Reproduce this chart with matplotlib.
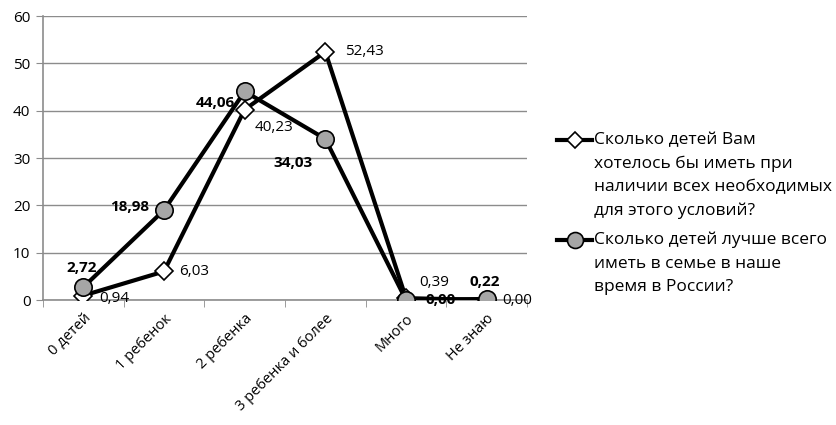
import matplotlib.pyplot as plt
from matplotlib.lines import Line2D

plt.rcParams['font.family'] = ['Open Sans', 'DejaVu Sans']

categories = ['0 детей', '1 ребенок', '2 ребенка', '3 ребенка и более', 'Много', 'Не знаю']
wish = [0.94, 6.03, 40.23, 52.43, 0.39, 0.00]
best = [2.72, 18.98, 44.06, 34.03, 0.00, 0.22]
wish_label = ['Сколько детей Вам', 'хотелось бы иметь при',
              'наличии всех необходимых', 'для этого условий?']
best_label = ['Сколько детей лучше всего', 'иметь в семье в наше', 'время в России?']

# label offsets in pixels (dx, dy)
wish_off = [(16, -3), (15, 0), (10, -18), (20, 0), (13, 16), (16, 0)]
best_off = [(14, 19), (-15, 3), (-10, -12), (-13, -24), (20, 0), (13, 17)]
best_ha = ['right', 'right', 'right', 'right', 'left', 'right']

fs = 11
leg_fs = 12.5
grid_c = '#8c8c8c'

fig = plt.figure(figsize=(8.37, 4.25), dpi=100)
ax = fig.add_axes([43 / 837, 1 - 300 / 425, (527 - 43) / 837, 284 / 425])

x = list(range(len(categories)))
ax.plot(x, wish, color='black', lw=3, zorder=3, solid_joinstyle='round')
ax.plot(x, best, color='black', lw=3, zorder=3, solid_joinstyle='round')
ax.plot(x, wish, ls='none', marker='D', ms=9, mfc='white', mec='black', mew=1.2, zorder=4)
ax.plot(x, best, ls='none', marker='o', ms=12.5, mfc='#a6a6a6', mec='black', mew=1.2, zorder=5)

for i, v in enumerate(wish):
    ax.annotate(f'{v:.2f}'.replace('.', ','), (i, v), xytext=wish_off[i],
                textcoords='offset pixels', ha='left', va='center', fontsize=fs, zorder=6)
for i, v in enumerate(best):
    ax.annotate(f'{v:.2f}'.replace('.', ','), (i, v), xytext=best_off[i],
                textcoords='offset pixels', ha=best_ha[i], va='center', fontsize=fs,
                fontweight='bold', zorder=6)

ax.set_xlim(-0.5, len(categories) - 0.5)
ax.set_ylim(0, 60)
ax.set_yticks(range(0, 61, 10))
ax.yaxis.grid(True, color=grid_c, lw=1)
ax.set_axisbelow(True)
ax.set_xticks(x)
ax.set_xticklabels(categories, rotation=45, ha='right', rotation_mode='anchor', fontsize=10.5)
ax.set_xticks([i - 0.5 for i in range(len(categories) + 1)], minor=True)
ax.tick_params(axis='x', which='major', length=0, pad=8)
ax.tick_params(axis='x', which='minor', length=5, color=grid_c, direction='out')
ax.tick_params(axis='y', length=5, color=grid_c, labelsize=fs, pad=4)
for s in ['top', 'right']:
    ax.spines[s].set_visible(False)
for s in ['left', 'bottom']:
    ax.spines[s].set_color(grid_c)
    ax.spines[s].set_linewidth(1.2)


# legend drawn by hand
def legend_entry(y_px, marker, ms, mfc, lines):
    yf = 1 - y_px / 425
    fig.add_artist(Line2D([557 / 837, 592 / 837], [yf, yf], color='black', lw=3))
    fig.add_artist(Line2D([575 / 837], [yf], marker=marker, ms=ms, mfc=mfc, mec='black', mew=1.2))
    for k, line in enumerate(lines):
        fig.text(594 / 837, 1 - (y_px + 23.6 * k) / 425, line, ha='left', va='center', fontsize=leg_fs)


legend_entry(140, 'D', 8, 'white', wish_label)
legend_entry(240, 'o', 11.5, '#a6a6a6', best_label)

fig.savefig('out.png', dpi=100)
